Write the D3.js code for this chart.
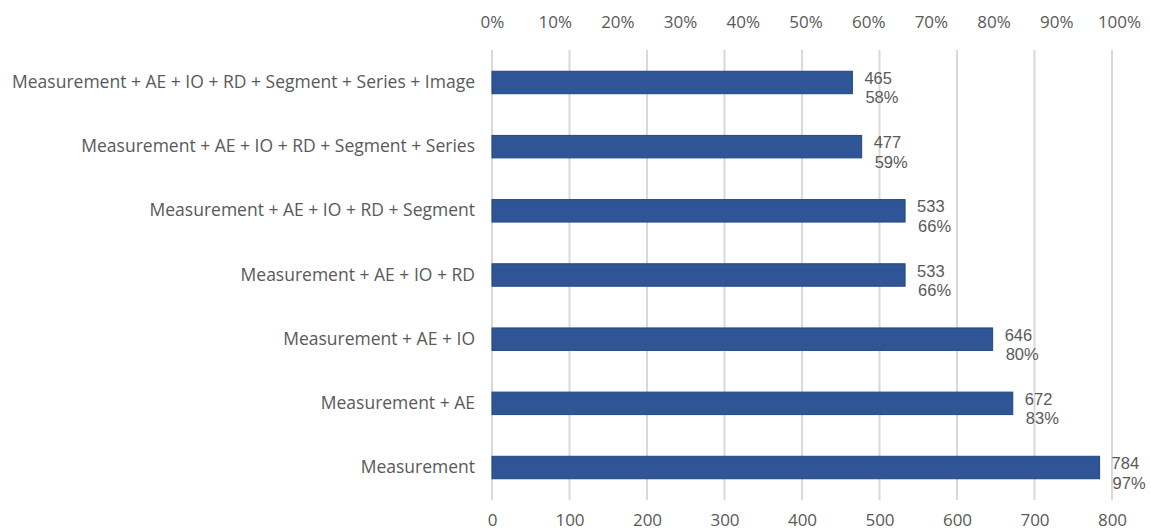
<!DOCTYPE html>
<html><head><meta charset="utf-8">
<script src="https://cdn.jsdelivr.net/npm/d3@7"></script>
<style>body{margin:0;background:#fff}svg text{font-family:"Open Sans",sans-serif;fill:#595959}svg text.v,svg text.p{font-family:"Liberation Sans",Arial,sans-serif}</style>
</head><body><svg id="c" width="1151" height="532"></svg>
<script>
const categories = ["Measurement + AE + IO + RD + Segment + Series + Image","Measurement + AE + IO + RD + Segment + Series","Measurement + AE + IO + RD + Segment","Measurement + AE + IO + RD","Measurement + AE + IO","Measurement + AE","Measurement"];
const values = [465,477,533,533,646,672,784];
const percents = ["58%","59%","66%","66%","80%","83%","97%"];
const bottomTicks = [0,100,200,300,400,500,600,700,800];
const topTicks = [0,0.1,0.2,0.3,0.4,0.5,0.6,0.7,0.8,0.9,1.0];

const svg = d3.select("#c");
const x = d3.scaleLinear().domain([0,800]).range([492,1112]);
const xp = d3.scaleLinear().domain([0,1]).range([492,1119]);
const y = d3.scaleBand().domain(categories).range([52,498]).paddingInner(0.65).paddingOuter(0.3);

// gridlines
svg.append("g").selectAll("line").data(bottomTicks).join("line")
  .attr("x1",d=>x(d)).attr("x2",d=>x(d)).attr("y1",50).attr("y2",500)
  .attr("stroke","#d9d9d9").attr("stroke-width",2);

// bottom axis
const bax = svg.append("g").attr("transform","translate(0,500)").call(d3.axisBottom(x).tickValues(bottomTicks).tickSize(0).tickPadding(14));
bax.select(".domain").remove();
bax.selectAll("text").attr("font-size",17).style("fill","#595959");

// top axis
const tax = svg.append("g").attr("transform","translate(0,34)").call(d3.axisTop(xp).tickValues(topTicks).tickFormat(d3.format(".0%")).tickSize(0).tickPadding(6));
tax.select(".domain").remove();
tax.selectAll("text").attr("font-size",17).style("fill","#595959");

// category axis
const lax = svg.append("g").attr("transform","translate(492,0)").call(d3.axisLeft(y).tickSize(0).tickPadding(17));
lax.select(".domain").remove();
lax.selectAll("text").attr("font-size",17.5).style("fill","#595959");

// bars
svg.append("g").selectAll("rect").data(values).join("rect")
  .attr("x",x(0)).attr("y",(d,i)=>y(categories[i]))
  .attr("width",d=>x(d)-x(0)).attr("height",y.bandwidth())
  .attr("fill","#2F5597").attr("stroke","#24467f").attr("stroke-width",1);

// labels
const cy = i => y(categories[i]) + y.bandwidth()/2;
const g = svg.append("g");
g.selectAll("text.v").data(values).join("text").attr("class","v")
  .attr("x",d=>x(d)+12).attr("y",(d,i)=>cy(i)+1.5)
  .attr("font-size",16.5).text(d=>d);
g.selectAll("text.p").data(values).join("text").attr("class","p")
  .attr("x",d=>x(d)+13).attr("y",(d,i)=>cy(i)+21)
  .attr("font-size",16.5).text((d,i)=>percents[i]);
</script></body></html>
